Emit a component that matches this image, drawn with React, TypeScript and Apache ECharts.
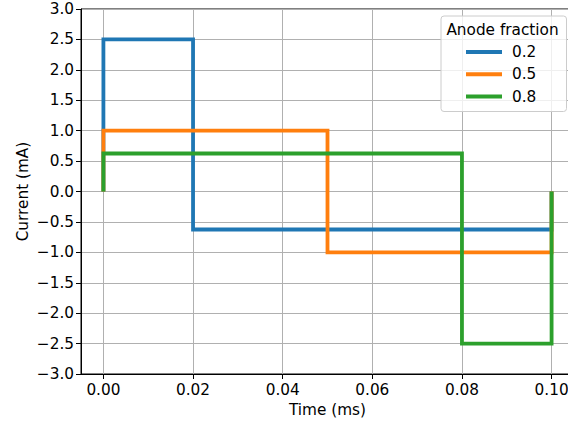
import React, { useEffect, useRef } from "react";
import * as echarts from "echarts";

// Anode fraction levels and their biphasic current waveforms (time in ms, current in mA)
const fractions = ["0.2", "0.5", "0.8"];
const colors = ["#1f77b4", "#ff7f0e", "#2ca02c"];
const timePoints: number[][] = [
  [0, 0, 0.02, 0.02, 0.1, 0.1],
  [0, 0, 0.05, 0.05, 0.1, 0.1],
  [0, 0, 0.08, 0.08, 0.1, 0.1],
];
const currentPoints: number[][] = [
  [0, 2.5, 2.5, -0.625, -0.625, 0],
  [0, 1.0, 1.0, -1.0, -1.0, 0],
  [0, 0.625, 0.625, -2.5, -2.5, 0],
];
const xTicks = [0, 0.02, 0.04, 0.06, 0.08, 0.1];

const FONT = "DejaVu Sans";
const FS = 15.3;

export default function App() {
  const ref = useRef<HTMLDivElement>(null);
  useEffect(() => {
    if (!ref.current) return;
    const chart = echarts.init(ref.current, undefined, { renderer: "svg" });
    const minus = (s: string) => s.replace("-", "\u2212");
    chart.setOption({
      animation: false,
      backgroundColor: "#ffffff",
      textStyle: { fontFamily: FONT },
      grid: {
        left: 81,
        right: 0,
        top: 9,
        bottom: 52,
        show: true,
        borderColor: "#000000",
        borderWidth: 1,
        backgroundColor: "transparent",
      },
      xAxis: {
        type: "value",
        min: -0.005,
        max: 0.105,
        name: "Time (ms)",
        nameLocation: "middle",
        nameGap: 28,
        nameTextStyle: { fontFamily: FONT, fontSize: FS, color: "#000" },
        axisLine: { show: true, onZero: false, lineStyle: { color: "#000", width: 1 } },
        axisTick: {
          show: true,
          length: 5,
          customValues: xTicks,
          lineStyle: { color: "#000", width: 1 },
        },
        axisLabel: {
          customValues: xTicks,
          fontFamily: FONT,
          fontSize: FS,
          color: "#000",
          margin: 8,
          formatter: (v: number) => minus(v.toFixed(2)),
        },
        splitLine: { show: true, lineStyle: { color: "#b0b0b0", width: 1 } },
      },
      yAxis: {
        type: "value",
        min: -3,
        max: 3,
        interval: 0.5,
        name: "Current (mA)",
        nameLocation: "middle",
        nameGap: 51,
        nameMoveOverlap: false,
        nameTextStyle: { fontFamily: FONT, fontSize: FS, color: "#000" },
        axisLine: { show: true, onZero: false, lineStyle: { color: "#000", width: 1 } },
        axisTick: { show: true, length: 5, lineStyle: { color: "#000", width: 1 } },
        axisLabel: {
          fontFamily: FONT,
          fontSize: FS,
          color: "#000",
          margin: 7,
          formatter: (v: number) => minus(v.toFixed(1)),
        },
        splitLine: { show: true, lineStyle: { color: "#b0b0b0", width: 1 } },
      },
      legend: {
        orient: "vertical",
        left: 466,
        top: 43.5,
        padding: 0,
        z: 20,
        itemWidth: 36,
        itemHeight: 4,
        itemGap: 5.3,
        icon: "rect",
        textStyle: {
          fontFamily: FONT,
          fontSize: FS,
          color: "#000",
          lineHeight: 17,
          padding: [0, 0, 0, 5],
        },
        data: fractions,
      },
      graphic: [
        {
          type: "rect",
          shape: { x: 441, y: 16, width: 125.5, height: 95.5, r: 3 },
          style: { fill: "rgba(255,255,255,0.8)", stroke: "#cccccc", lineWidth: 1 },
          z: 10,
        },
        {
          type: "text",
          x: 502.5,
          y: 30,
          style: {
            text: "Anode fraction",
            fontFamily: FONT,
            fontSize: FS,
            fill: "#000",
            align: "center",
            verticalAlign: "middle",
          },
          z: 21,
        },
      ],
      series: fractions.map((name, i) => ({
        name,
        type: "line",
        data: timePoints[i].map((t, j) => [t, currentPoints[i][j]]),
        showSymbol: false,
        symbol: "none",
        color: colors[i],
        lineStyle: { width: 3.8, color: colors[i], join: "miter" },
        z: 3 + i,
      })),
    });
    return () => chart.dispose();
  }, []);
  return (
    <div
      style={{
        position: "fixed",
        left: 0,
        top: 0,
        width: 568,
        height: 426,
        overflow: "hidden",
        background: "#fff",
      }}
    >
      <div ref={ref} style={{ width: 574, height: 426 }} />
    </div>
  );
}
